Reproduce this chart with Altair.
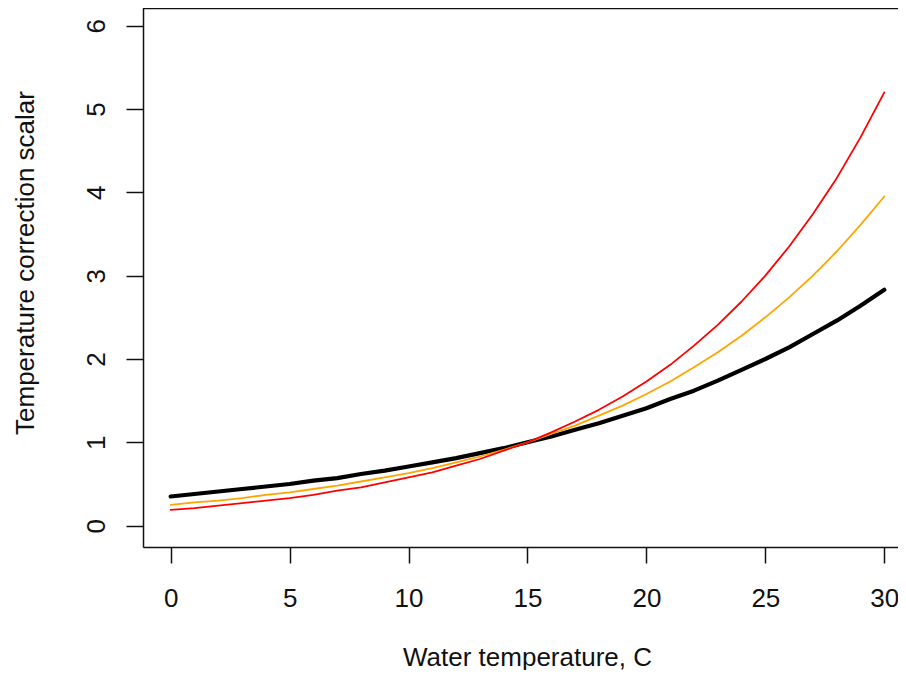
import altair as alt
import pandas as pd

# Water temperature (C)
temps = list(range(0, 31))

# Temperature correction scalar
black_vals = [0.35, 0.38, 0.41, 0.44, 0.47, 0.50, 0.54, 0.57, 0.62, 0.66, 0.71,
              0.76, 0.81, 0.87, 0.93, 1.00, 1.07, 1.15, 1.23, 1.32, 1.41,
              1.52, 1.62, 1.74, 1.87, 2.00, 2.14, 2.30, 2.46, 2.64, 2.83]
orange_vals = [0.25, 0.28, 0.30, 0.33, 0.37, 0.40, 0.44, 0.48, 0.53, 0.58, 0.63,
               0.69, 0.76, 0.83, 0.91, 1.00, 1.10, 1.20, 1.32, 1.44, 1.58,
               1.73, 1.90, 2.08, 2.28, 2.50, 2.74, 3.00, 3.29, 3.61, 3.95]
red_vals = [0.19, 0.21, 0.24, 0.27, 0.30, 0.33, 0.37, 0.42, 0.46, 0.52, 0.58,
            0.64, 0.72, 0.80, 0.90, 1.00, 1.12, 1.25, 1.39, 1.55, 1.73,
            1.93, 2.16, 2.41, 2.69, 3.00, 3.35, 3.74, 4.17, 4.66, 5.20]

x_ticks = [0, 5, 10, 15, 20, 25, 30]
y_ticks = [0, 1, 2, 3, 4, 5, 6]

FONT = "Liberation Sans"
W, H = 755, 539

x_scale = alt.Scale(domain=[-1.164, 30.576], nice=False, zero=False)
y_scale = alt.Scale(domain=[-0.256, 6.212], nice=False, zero=False)

x_axis = alt.Axis(
    values=x_ticks, grid=False, title="Water temperature, C",
    tickSize=16, tickWidth=1.5, tickColor="#111", domainColor="#111", domainWidth=1.5,
    labelFont=FONT, labelFontSize=26, labelColor="#111", labelPadding=22,
    labelFlush=False, labelOverlap=False,
    titleFont=FONT, titleFontSize=26, titleFontWeight="normal", titleColor="#111",
    titleX=384, titleY=118, titleBaseline="alphabetic", titleAlign="center",
)
y_axis = alt.Axis(
    values=y_ticks, grid=False, title="Temperature correction scalar",
    tickSize=17, tickWidth=1.5, tickColor="#111", domainColor="#111", domainWidth=1.5,
    labelFont=FONT, labelFontSize=26, labelColor="#111", labelPadding=22,
    labelAngle=270, labelAlign="center", labelBaseline="alphabetic",
    labelFlush=False, labelOverlap=False,
    titleFont=FONT, titleFontSize=26, titleFontWeight="normal", titleColor="#111",
    titleAngle=270, titleX=-110, titleY=254.5, titleBaseline="alphabetic", titleAlign="center",
)

def series_df(vals):
    return pd.DataFrame({"temp": temps, "scalar": vals})

def line(vals, color, width):
    return alt.Chart(series_df(vals)).mark_line(
        color=color, strokeWidth=width, strokeCap="round", strokeJoin="round"
    ).encode(
        x=alt.X("temp:Q", scale=x_scale, axis=x_axis),
        y=alt.Y("scalar:Q", scale=y_scale, axis=y_axis),
    )

frame_top = alt.Chart(pd.DataFrame({"a": [0]})).mark_rule(
    color="#111", strokeWidth=1.5
).encode(x=alt.value(0), x2=alt.value(W), y=alt.value(0.5))

chart = alt.layer(
    line(black_vals, "#000000", 4.2),
    line(orange_vals, "#FFA500", 1.8),
    line(red_vals, "#FF0000", 1.8),
    frame_top,
).properties(
    width=W, height=H,
    background="white",
    autosize=alt.AutoSizeParams(type="none"),
    padding={"left": 135, "top": 0, "right": 0, "bottom": 123},
).configure_view(stroke=None)

chart.save("out.html", embed_options={"renderer": "svg", "actions": False})
